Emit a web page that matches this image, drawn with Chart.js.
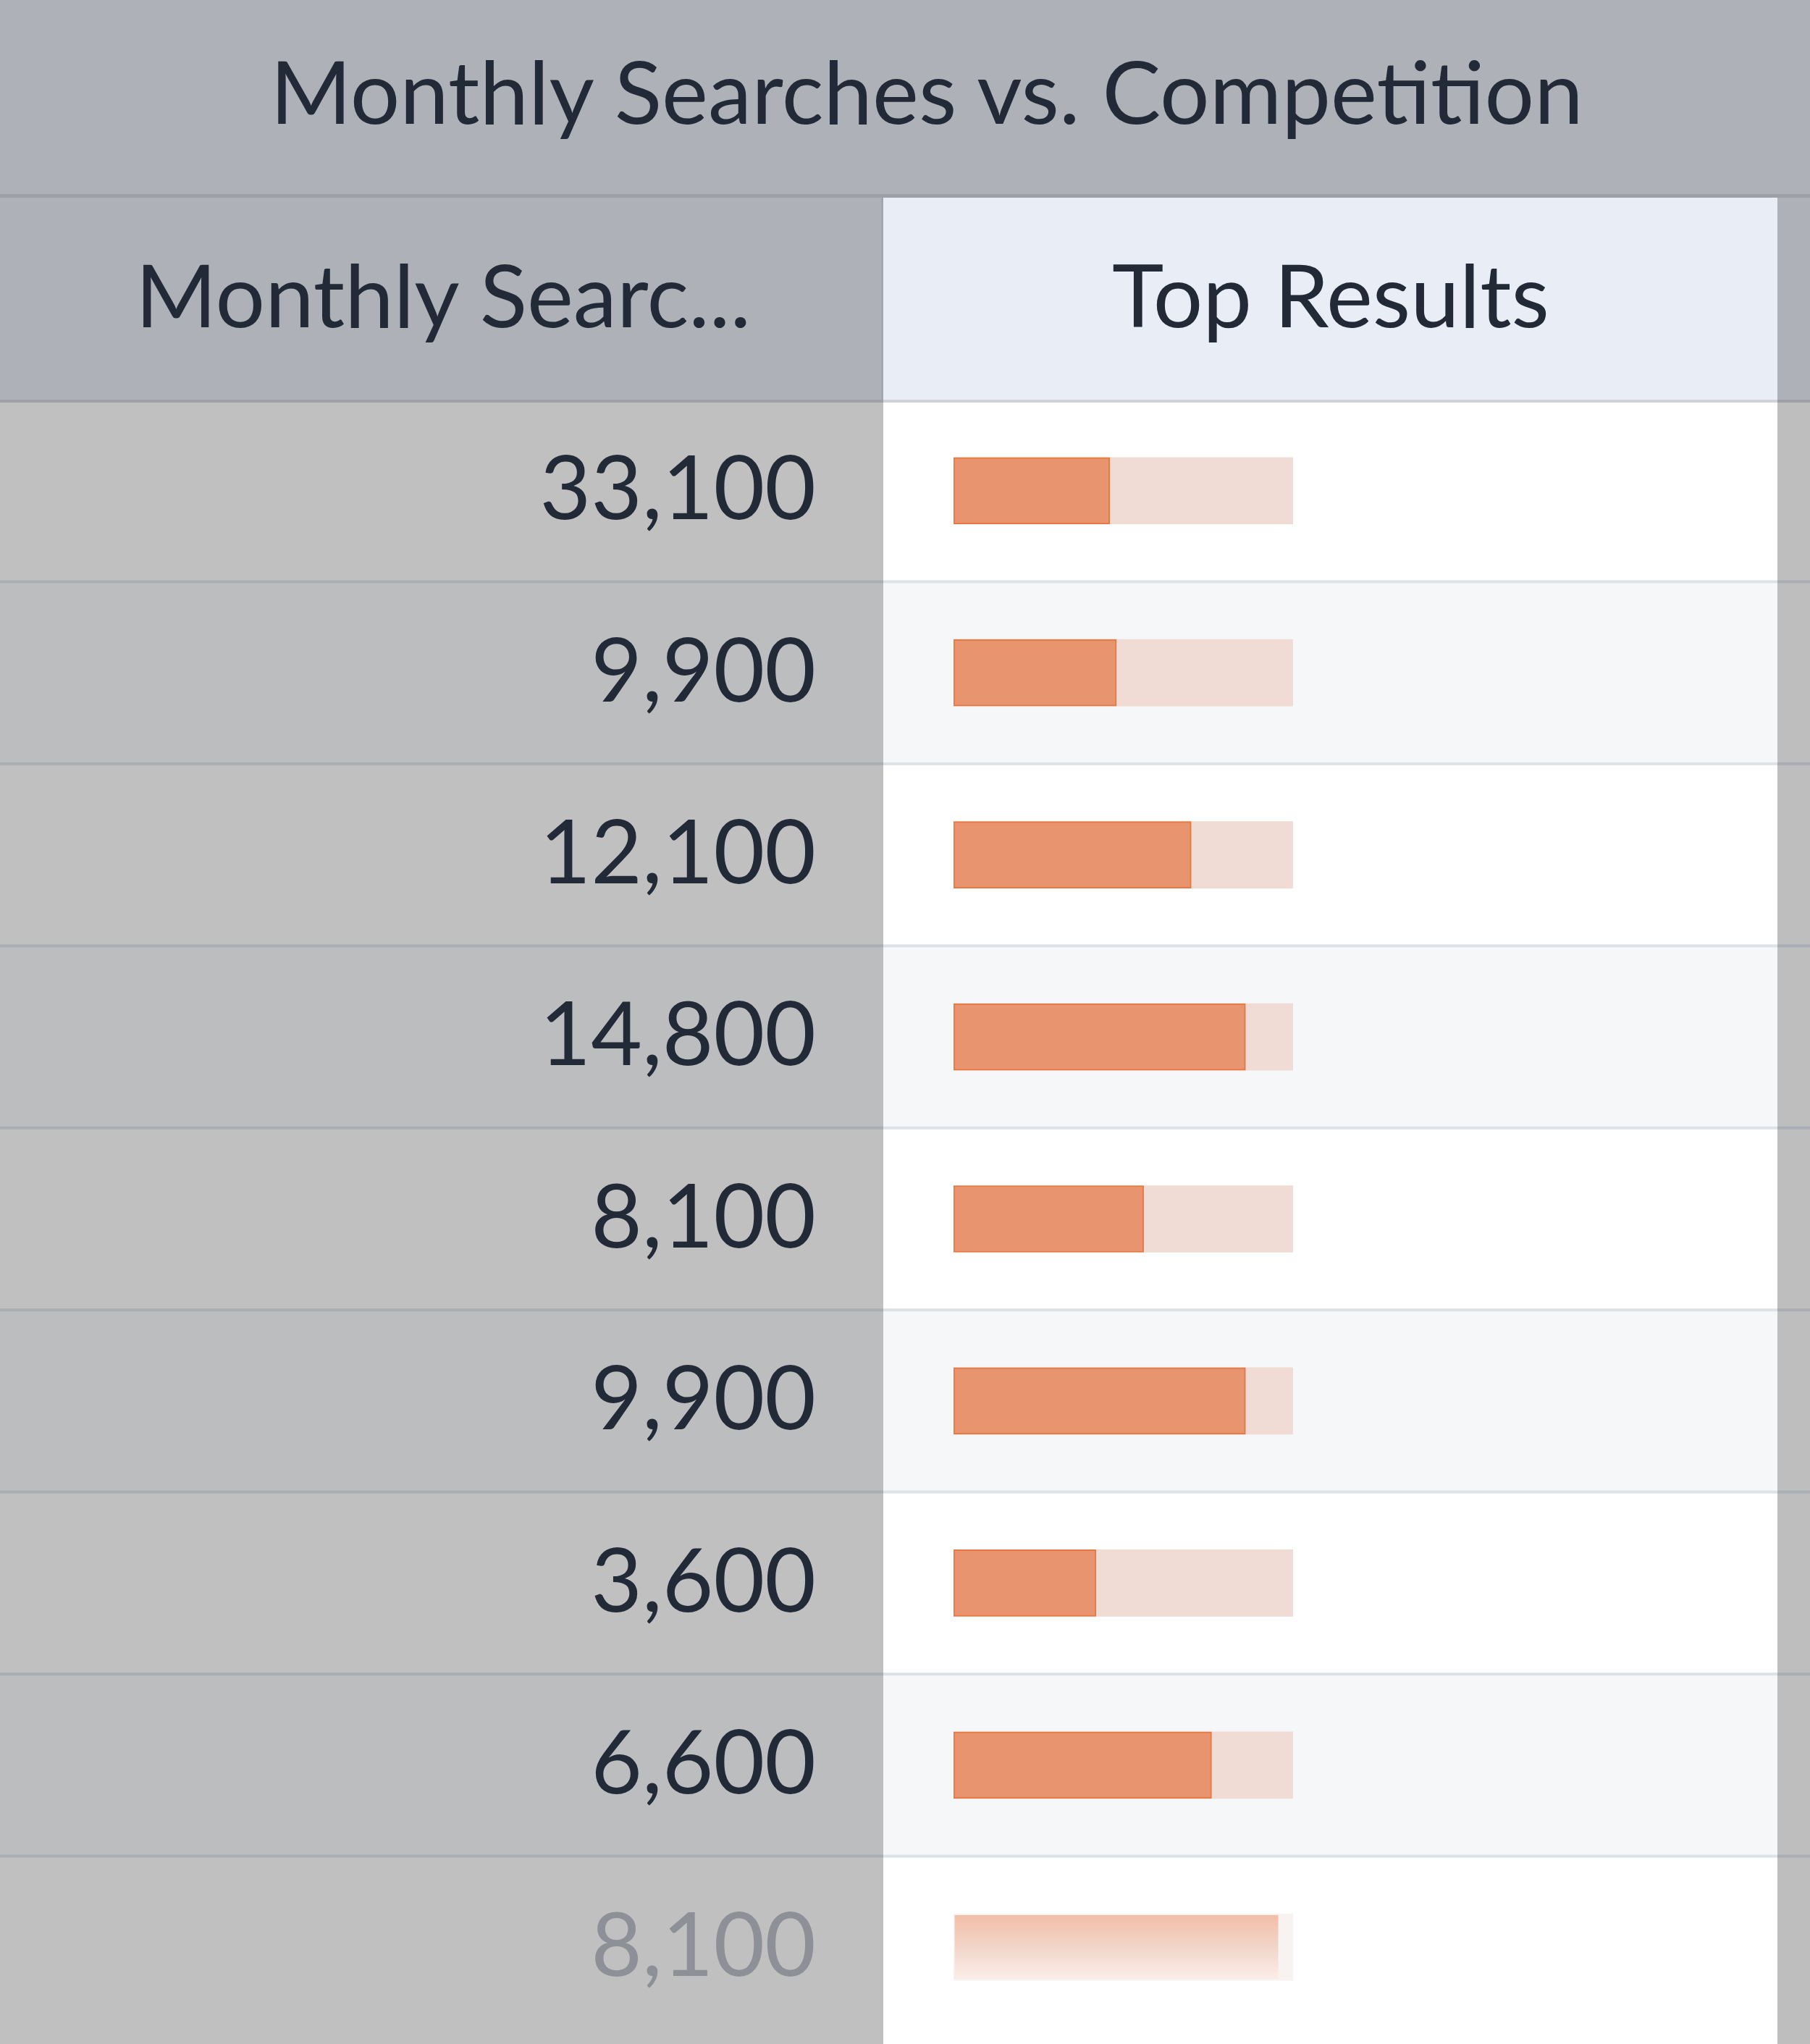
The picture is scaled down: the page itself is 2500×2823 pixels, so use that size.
<!DOCTYPE html>
<html>
<head>
<meta charset="utf-8">
<script src="https://cdn.jsdelivr.net/npm/chart.js@4.4.1/dist/chart.umd.min.js"></script>
<style>
  html, body { margin: 0; padding: 0; background: #ffffff; }
  #page { position: relative; width: 2500px; height: 2823px; overflow: hidden; background: #ffffff; }
  .txt { position: absolute; font-family: 'Lato', sans-serif; color: #222a38; white-space: nowrap; line-height: normal; }
  #titleBand { position: absolute; left: 0; top: 0; width: 2500px; height: 268px; background: #aeb1b7; border-bottom: 5px solid #9da0a6; }
  #hdrLeft { position: absolute; left: 0; top: 273px; width: 1217px; height: 279px; background: #aeb1b7; border-right: 3px solid #a3a6ac; }
  #hdrRight { position: absolute; left: 1220px; top: 273px; width: 1235px; height: 279px; background: #e9edf5; }
  #hdrStrip { position: absolute; left: 2455px; top: 273px; width: 45px; height: 279px; background: #aeb1b7; }
  #chartWrap { position: absolute; left: 0; top: 552px; width: 2500px; height: 2271px; }
  canvas { display: block; }
</style>
</head>
<body>
<div id="page">
  <div id="titleBand"></div>
  <div id="hdrLeft"></div>
  <div id="hdrRight"></div>
  <div id="hdrStrip"></div>
  <div id="titleText" class="txt"></div>
  <div id="hdrLeftText" class="txt"></div>
  <div id="hdrRightText" class="txt"></div>
  <div id="chartWrap"><canvas id="c" width="2500" height="2271"></canvas></div>
</div>
<script>
// ---- data ----
const chartTitle = 'Monthly Searches vs. Competition';
const columnHeaders = ['Monthly Searc...', 'Top Results'];
const monthlySearches = ['33,100', '9,900', '12,100', '14,800', '8,100', '9,900', '3,600', '6,600', '8,100'];
const topResults = [46, 48, 70, 86, 56, 86, 42, 76, 96];
const trackValues = [100, 100, 100, 100, 100, 100, 100, 100, 100];

// ---- text ----
function placeText(id, text, centerX, top, size) {
  const el = document.getElementById(id);
  el.textContent = text;
  el.style.fontSize = size + 'px';
  el.style.top = top + 'px';
  el.style.left = '0px';
  const w = el.getBoundingClientRect().width;
  el.style.left = (centerX - w / 2) + 'px';
}
placeText('titleText', chartTitle, 1280, 52, 121);
placeText('hdrLeftText', columnHeaders[0], 612, 333, 121);
placeText('hdrRightText', columnHeaders[1], 1838, 333, 121);

const lastIdx = monthlySearches.length - 1;

const tablePlugin = {
  id: 'tableBg',
  beforeDraw(chart) {
    const ctx = chart.ctx;
    const ys = chart.scales.y;
    const n = monthlySearches.length;
    const rowH = (ys.bottom - ys.top) / n;
    ctx.save();
    for (let i = 0; i < n; i++) {
      const yc = ys.getPixelForValue(i);
      const top = yc - rowH / 2;
      const h = (i === n - 1) ? chart.height - top : rowH;
      ctx.fillStyle = i % 2 === 0 ? '#c0c0c0' : '#bcbdbf';
      ctx.fillRect(0, top, 1220, h);
      ctx.fillStyle = i % 2 === 0 ? '#ffffff' : '#f6f7f9';
      ctx.fillRect(1220, top, 1235, h);
      ctx.fillStyle = '#bebebf';
      ctx.fillRect(2455, top, 45, h);
      if (i === 0) {
        ctx.fillStyle = '#9ea1a7';
        ctx.fillRect(0, top, 1220, 4);
        ctx.fillStyle = '#cfd2d8';
        ctx.fillRect(1220, top, 1235, 4);
        ctx.fillStyle = '#9ea1a7';
        ctx.fillRect(2455, top, 45, 4);
      } else {
        ctx.fillStyle = '#a9adb4';
        ctx.fillRect(0, top - 2, 1220, 4);
        ctx.fillStyle = '#dde1e8';
        ctx.fillRect(1220, top - 2, 1235, 4);
        ctx.fillStyle = '#a9adb4';
        ctx.fillRect(2455, top - 2, 45, 4);
      }
    }
    ctx.restore();
  }
};

function fillColor(context) {
  const chart = context.chart;
  if (context.dataIndex === lastIdx && chart.scales && chart.scales.y) {
    const yc = chart.scales.y.getPixelForValue(lastIdx);
    const g = chart.ctx.createLinearGradient(0, yc - 46, 0, yc + 46);
    g.addColorStop(0, '#f3bea6');
    g.addColorStop(0.5, '#f2d5c9');
    g.addColorStop(1, '#fbefea');
    return g;
  }
  return '#e8946e';
}

const chart = new Chart(document.getElementById('c'), {
  type: 'bar',
  data: {
    labels: monthlySearches,
    datasets: [
      {
        label: 'Top Results',
        data: topResults,
        backgroundColor: fillColor,
        borderColor: (ctx) => ctx.dataIndex === lastIdx ? 'rgba(0,0,0,0)' : '#e8783f',
        borderWidth: 2,
        borderSkipped: false,
        barThickness: 92,
        grouped: false,
        order: 0
      },
      {
        label: 'Track',
        data: trackValues,
        backgroundColor: (ctx) => ctx.dataIndex === lastIdx ? '#f8f2f0' : '#f1dcd5',
        borderWidth: 0,
        barThickness: 92,
        grouped: false,
        order: 1
      }
    ]
  },
  options: {
    indexAxis: 'y',
    responsive: false,
    devicePixelRatio: 1,
    animation: false,
    layout: { padding: { left: 0, right: 714, top: 0, bottom: 8 } },
    plugins: { legend: { display: false }, tooltip: { enabled: false }, title: { display: false } },
    scales: {
      x: { display: false, min: 0, max: 100 },
      y: {
        type: 'category',
        offset: true,
        grid: { display: false, drawTicks: false },
        border: { display: false },
        ticks: {
          autoSkip: false,
          padding: 190,
          font: { family: 'Lato', size: 122 },
          color: (ctx) => ctx.index === lastIdx ? '#8d9096' : '#222a38'
        },
        afterFit(scale) {
          scale.width = 1317;
          scale.paddingTop = 0;
          scale.paddingBottom = 0;
        }
      }
    }
  },
  plugins: [tablePlugin]
});
</script>
</body>
</html>
